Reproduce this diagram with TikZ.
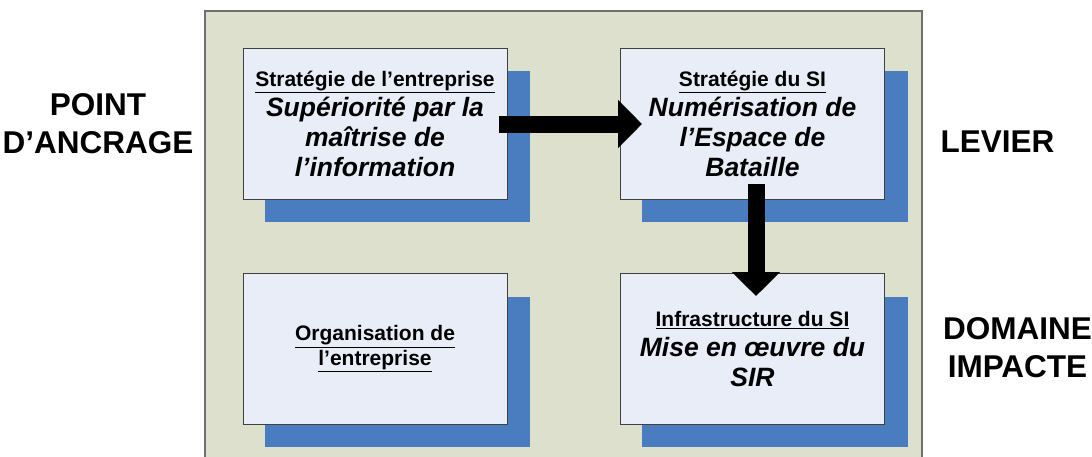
\documentclass[tikz,border=0pt]{standalone}
\usepackage{fontspec}
\setmainfont{Liberation Sans}
\usetikzlibrary{arrows.meta}
\definecolor{panelbg}{HTML}{DDE0CC}
\definecolor{boxbg}{HTML}{E8EDF7}
\definecolor{shadowblue}{HTML}{4A7CC0}
\definecolor{panelborder}{HTML}{707070}
\tikzset{
  card/.style={draw=black!75, line width=1pt, fill=boxbg, minimum width=264pt, minimum height=151pt,
    align=center, inner sep=0pt, font=\fontsize{26.5}{30}\selectfont\bfseries\itshape},
  shade/.style={fill=shadowblue},
  bigarrow/.style={line width=17pt, -{Triangle[width=47pt,length=24pt]}, black},
  sidelabel/.style={align=center, font=\fontsize{31.5}{38}\selectfont\bfseries}
}
\newcommand{\ul}[1]{\underline{#1}}
\newcommand{\ttl}[1]{{\fontsize{21}{30}\selectfont\upshape\ul{#1}}}
\begin{document}
\begin{tikzpicture}[x=1pt,y=-1pt]
\clip (0,0) rectangle (1092,456);
\fill[white] (0,0) rectangle (1092,456);
% panel
\draw[fill=panelbg, draw=panelborder, line width=1.5pt] (205,11) rectangle (922,470);
% shadows
\fill[shade] (265,71) rectangle (530,222);
\fill[shade] (642,71) rectangle (908,222);
\fill[shade] (265,297) rectangle (530,447);
\fill[shade] (642,297) rectangle (908,447);
% boxes
\node[card] (b1) at (375,124) {\ttl{Stratégie de l’entreprise}\\Supériorité par la\\maîtrise de\\l’information};
\node[card] (b2) at (752.5,124) {\ttl{Stratégie du SI}\\Numérisation de\\l’Espace de\\Bataille};
\node[card, font=\fontsize{21}{25}\selectfont\bfseries] (b3) at (375,349) {\ul{Organisation de}\\\ul{l’entreprise}};
\node[card] (b4) at (752.5,349) {\ttl{Infrastructure du SI}\\Mise en œuvre du\\SIR};
% arrows
\draw[bigarrow] ([xshift=-9pt]b1.east) -- ([xshift=22pt]b2.west);
\draw[bigarrow] ([xshift=3.5pt,yshift=16pt]b2.south) -- ([xshift=3.5pt,yshift=-23pt]b4.north);
% side labels
\node[sidelabel] (l1) at (98,124) {POINT\\D’ANCRAGE};
\node[sidelabel] (l2) at (997.5,142) {LEVIER};
\node[sidelabel] (l3) at (1017.5,348) {DOMAINE\\IMPACTE};
\end{tikzpicture}
\end{document}
